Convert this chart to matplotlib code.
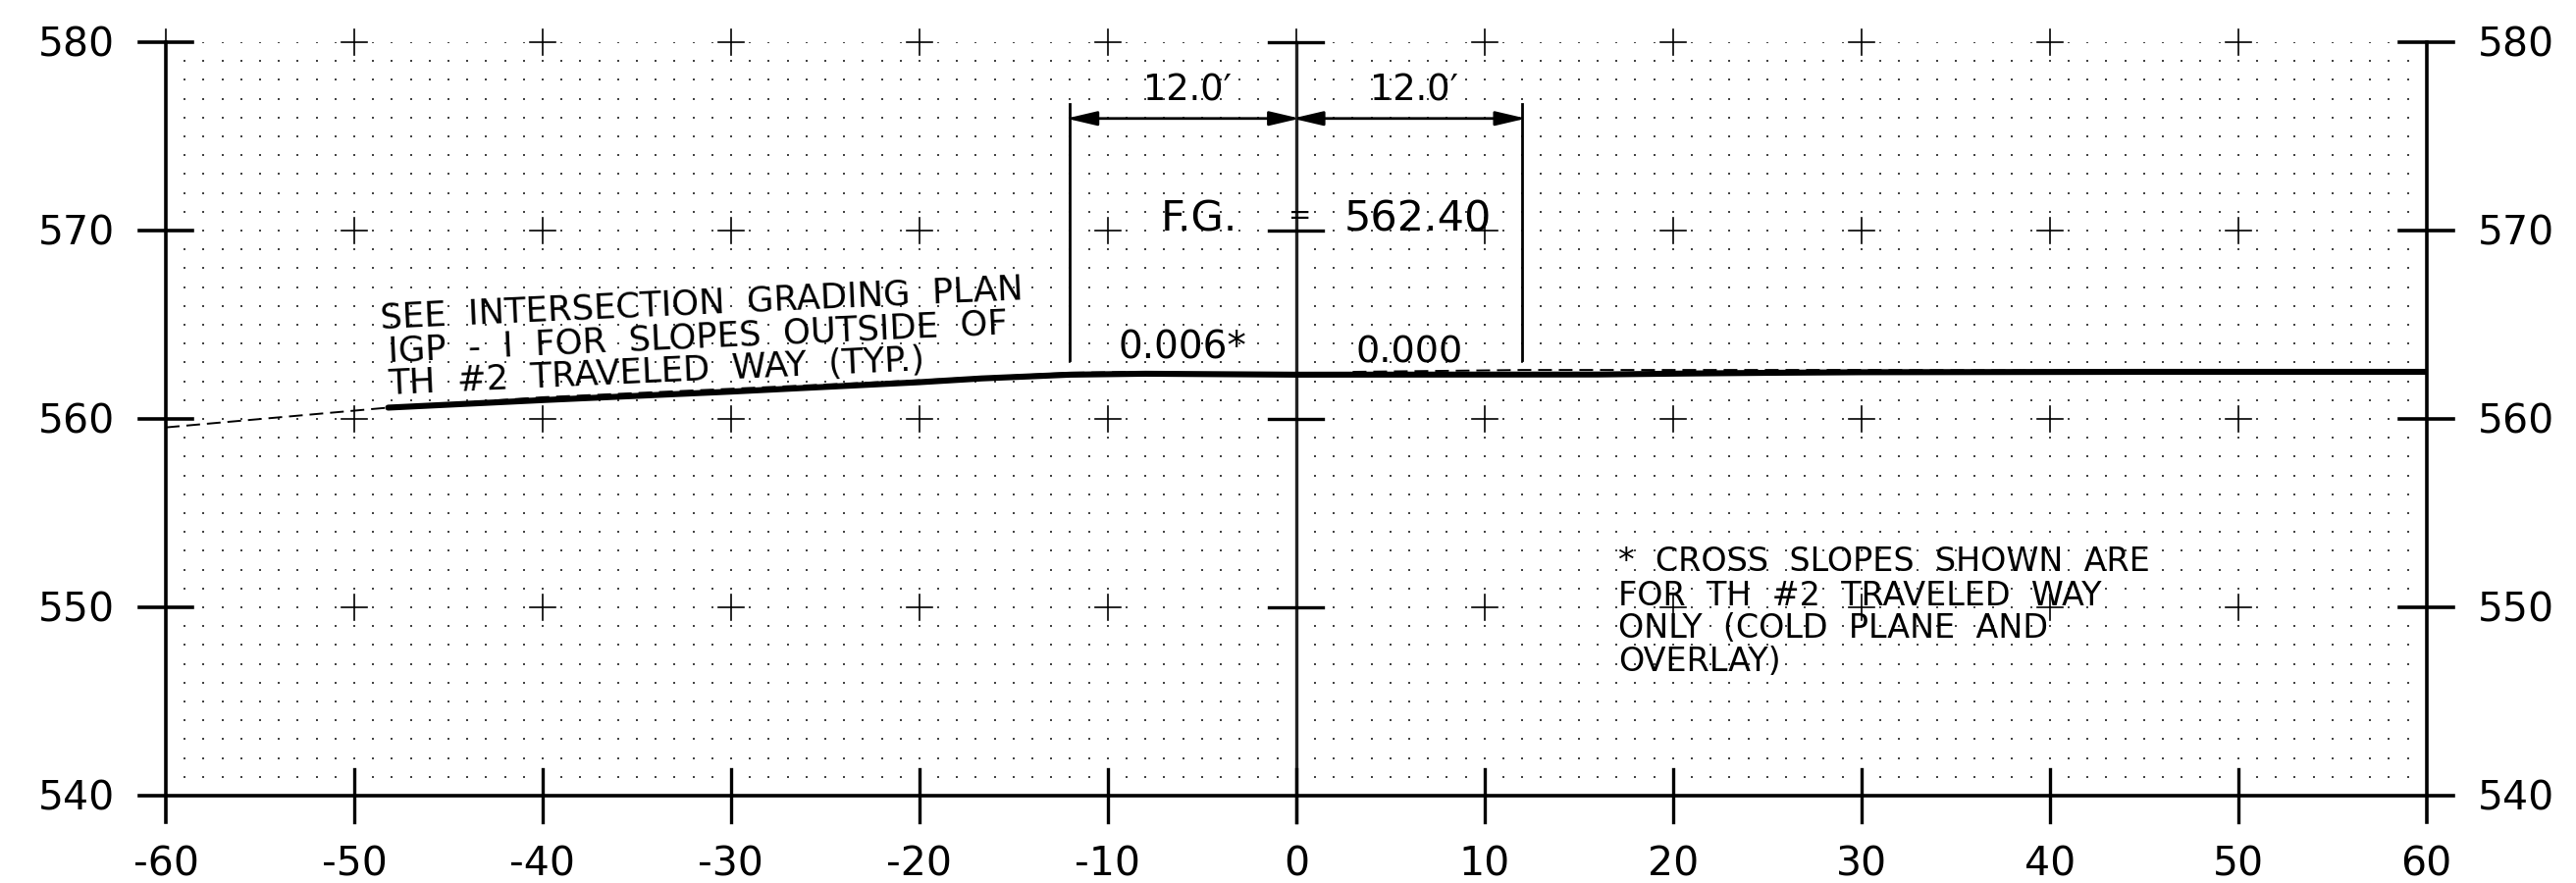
import numpy as np
import matplotlib
matplotlib.use('Agg')
import matplotlib.pyplot as plt

x_ticks = [-60, -50, -40, -30, -20, -10, 0, 10, 20, 30, 40, 50, 60]
y_ticks = [540, 550, 560, 570, 580]

# finished grade (thick) and existing ground (dashed)
grade_x = [-48.2, -40, -30, -20, -16.7, -12, -8, 0, 16, 20.6, 25.3, 30, 45, 60]
grade_y = [560.6, 561.0, 561.45, 561.95, 562.15, 562.35, 562.4, 562.35, 562.36, 562.41, 562.45, 562.48, 562.5, 562.5]
exist_x = [-60, -48.2, -40, -30, -20, -12, -8]
exist_y = [559.55, 560.6, 561.15, 561.6, 562.05, 562.45, 562.5]
exist2_x = [3, 12, 30, 45]
exist2_y = [562.5, 562.6, 562.6, 562.55]

plt.rcParams['font.family'] = ['DejaVu Sans']

fig = plt.figure(figsize=(26.25, 9), dpi=100)
ax = fig.add_axes([169 / 2625, 1 - 811 / 900, (2472.7 - 169) / 2625, 768 / 900])
ax.set_xlim(-60, 60)
ax.set_ylim(540, 580)
for s in ax.spines.values():
    s.set_visible(False)
ax.set_xticks([])
ax.set_yticks([])

# dots
gx, gy = np.meshgrid(np.arange(-59, 60), np.arange(541, 581))
ax.scatter(gx.ravel(), gy.ravel(), s=1.4, color='#444444', linewidths=0, marker='s', zorder=1)

# small crosses
for x in x_ticks[1:-1]:
    if x == 0:
        continue
    for y in y_ticks[1:]:
        ax.plot([x - 0.68, x + 0.68], [y, y], color='black', lw=1.2, zorder=2, clip_on=False)
        ax.plot([x, x], [y - 0.68, y + 0.68], color='black', lw=1.2, zorder=2, clip_on=False)

# frame
ax.plot([-60, -60], [538.6, 580], color='black', lw=2.6, zorder=3, clip_on=False)
ax.plot([-60, -60], [580, 580.7], color='black', lw=1.2, zorder=3, clip_on=False)
ax.plot([60, 60], [538.6, 580], color='black', lw=2.6, zorder=3, clip_on=False)
ax.plot([0, 0], [538.6, 580], color='#222222', lw=2.4, zorder=3, clip_on=False)
ax.plot([0, 0], [580, 580.7], color='black', lw=1.2, zorder=3, clip_on=False)
ax.plot([-61.43, 61.43], [540, 540], color='black', lw=2.6, zorder=3, clip_on=False)
for x in x_ticks[1:-1]:
    ax.plot([x, x], [538.6, 541.4], color='black', lw=2.4, zorder=3, clip_on=False)
for y in y_ticks[1:]:
    ax.plot([-61.43, -58.57], [y, y], color='black', lw=2.6, zorder=3, clip_on=False)
    ax.plot([58.57, 61.43], [y, y], color='black', lw=2.6, zorder=3, clip_on=False)
    ax.plot([-1.43, 1.43], [y, y], color='black', lw=2.4, zorder=3, clip_on=False)

# profile
ax.plot(exist_x, exist_y, color='black', lw=1.4, ls=(0, (7.2, 3.6)), zorder=4, clip_on=False)
ax.plot(exist2_x, exist2_y, color='black', lw=1.4, ls=(0, (7.2, 3.6)), zorder=4)
ax.plot(grade_x, grade_y, color='black', lw=4.4, zorder=5, solid_capstyle='round')

# dimension lines
for x in [-12, 12]:
    ax.plot([x, x], [563.1, 576.7], color='black', lw=2.0, zorder=4)
for a, b in [(-12, 0), (0, 12)]:
    ax.annotate('', xy=(a - 0.2, 575.95), xytext=(b + 0.2, 575.95), zorder=4,
                arrowprops=dict(arrowstyle='<|-|>,head_length=0.94,head_width=0.22', color='black',
                                lw=2.0, shrinkA=0, shrinkB=0, mutation_scale=20))

txt = dict(color='black', zorder=6, va='baseline')
for x in x_ticks:
    ax.text(x, 535.75, str(x), ha='center', fontsize=29.5, clip_on=False, **txt)
for y in y_ticks:
    ax.text(-62.7, y - 0.78, str(y), ha='right', fontsize=29.5, **txt)
    ax.text(62.7, y - 0.78, str(y), ha='left', fontsize=29.5, **txt)

ax.text(-5.8, 576.9, "12.0\u2032", ha='center', fontsize=26.5, **txt)
ax.text(6.25, 576.9, "12.0\u2032", ha='center', fontsize=26.5, **txt)
ax.text(-7.2, 570.0, 'F.G.', ha='left', fontsize=31, **txt)
ax.text(0.2, 570.35, '=', ha='center', fontsize=20, **txt)
ax.text(2.55, 570.0, '562.40', ha='left', fontsize=31, **txt)
ax.text(-9.45, 563.2, '0.006*', ha='left', fontsize=28, **txt)
ax.text(3.15, 563.0, '0.000', ha='left', fontsize=27.5, **txt)

rot = 2.6
ax.text(-48.6, 564.8, 'SEE  INTERSECTION  GRADING  PLAN', rotation=rot, rotation_mode='anchor',
        ha='left', fontsize=25.5, **txt)
ax.text(-48.2, 563.07, 'IGP  -  I  FOR  SLOPES  OUTSIDE  OF', rotation=rot, rotation_mode='anchor',
        ha='left', fontsize=25.5, **txt)
ax.text(-48.2, 561.3, 'TH  #2  TRAVELED  WAY  (TYP.)', rotation=rot, rotation_mode='anchor',
        ha='left', fontsize=25.5, **txt)

note = ['*  CROSS  SLOPES  SHOWN  ARE', 'FOR  TH  #2  TRAVELED  WAY', 'ONLY  (COLD  PLANE  AND', 'OVERLAY)']
note_y = [551.94, 550.1, 548.4, 546.6]
for line, y in zip(note, note_y):
    ax.text(17.1, y, line, ha='left', fontsize=24, **txt)

fig.savefig('out.png', dpi=100)
